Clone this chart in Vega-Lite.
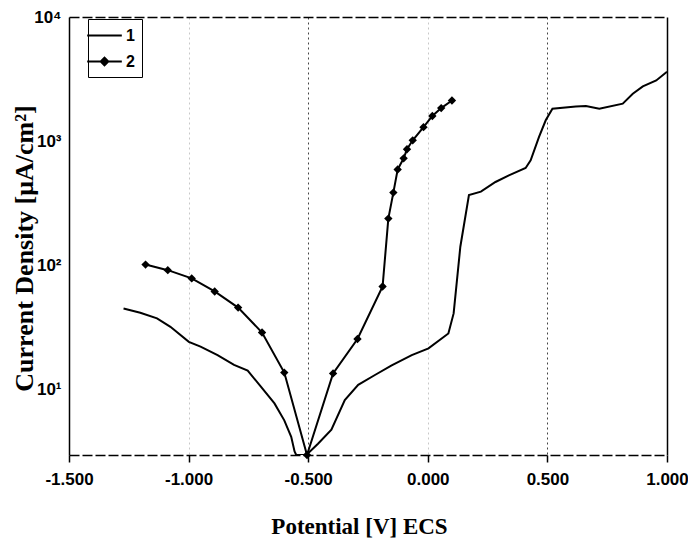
{
  "$schema": "https://vega.github.io/schema/vega-lite/v6.json",
  "width": 598,
  "height": 438,
  "autosize": {"type": "none"},
  "padding": {"left": 69, "top": 17, "right": 21, "bottom": 92},
  "background": "white",
  "config": {
    "view": {"stroke": null},
    "axis": {"labelFont": "Liberation Sans", "labelFontWeight": "bold", "labelColor": "black", "titleColor": "black", "titleFont": "Liberation Serif", "titleFontWeight": "bold", "labelFontSize": 17}
  },
  "data": {
    "values": [
      {"series": "1", "potential": -1.272, "current": 45.3},
      {"series": "1", "potential": -1.202, "current": 41.8},
      {"series": "1", "potential": -1.132, "current": 37.7},
      {"series": "1", "potential": -1.076, "current": 32.2},
      {"series": "1", "potential": -0.999, "current": 24.4},
      {"series": "1", "potential": -0.95, "current": 22.3},
      {"series": "1", "potential": -0.879, "current": 19.1},
      {"series": "1", "potential": -0.81, "current": 15.9},
      {"series": "1", "potential": -0.753, "current": 14.3},
      {"series": "1", "potential": -0.697, "current": 10.6},
      {"series": "1", "potential": -0.641, "current": 7.8},
      {"series": "1", "potential": -0.6, "current": 5.7},
      {"series": "1", "potential": -0.571, "current": 4.2},
      {"series": "1", "potential": -0.557, "current": 3.2},
      {"series": "1", "potential": -0.55, "current": 3.0},
      {"series": "1", "potential": -0.508, "current": 3.0},
      {"series": "1", "potential": -0.459, "current": 3.7},
      {"series": "1", "potential": -0.403, "current": 4.8},
      {"series": "1", "potential": -0.347, "current": 8.3},
      {"series": "1", "potential": -0.291, "current": 11.0},
      {"series": "1", "potential": -0.221, "current": 13.2},
      {"series": "1", "potential": -0.151, "current": 15.8},
      {"series": "1", "potential": -0.067, "current": 19.1},
      {"series": "1", "potential": 0.003, "current": 21.6},
      {"series": "1", "potential": 0.086, "current": 28.5},
      {"series": "1", "potential": 0.108, "current": 41.3},
      {"series": "1", "potential": 0.136, "current": 142},
      {"series": "1", "potential": 0.172, "current": 370},
      {"series": "1", "potential": 0.222, "current": 394},
      {"series": "1", "potential": 0.283, "current": 471},
      {"series": "1", "potential": 0.339, "current": 533},
      {"series": "1", "potential": 0.409, "current": 611},
      {"series": "1", "potential": 0.43, "current": 703},
      {"series": "1", "potential": 0.465, "current": 1084},
      {"series": "1", "potential": 0.493, "current": 1476},
      {"series": "1", "potential": 0.521, "current": 1832},
      {"series": "1", "potential": 0.619, "current": 1910},
      {"series": "1", "potential": 0.661, "current": 1923},
      {"series": "1", "potential": 0.717, "current": 1832},
      {"series": "1", "potential": 0.815, "current": 2009},
      {"series": "1", "potential": 0.857, "current": 2415},
      {"series": "1", "potential": 0.899, "current": 2767},
      {"series": "1", "potential": 0.955, "current": 3090},
      {"series": "1", "potential": 1.0, "current": 3630},
      {"series": "2", "potential": -1.18, "current": 102},
      {"series": "2", "potential": -1.087, "current": 92},
      {"series": "2", "potential": -0.987, "current": 79},
      {"series": "2", "potential": -0.891, "current": 62},
      {"series": "2", "potential": -0.793, "current": 46},
      {"series": "2", "potential": -0.693, "current": 29},
      {"series": "2", "potential": -0.6, "current": 13.8},
      {"series": "2", "potential": -0.505, "current": 3.0},
      {"series": "2", "potential": -0.396, "current": 13.6},
      {"series": "2", "potential": -0.294, "current": 25.7},
      {"series": "2", "potential": -0.189, "current": 68},
      {"series": "2", "potential": -0.165, "current": 239},
      {"series": "2", "potential": -0.144, "current": 387},
      {"series": "2", "potential": -0.126, "current": 593},
      {"series": "2", "potential": -0.101, "current": 730},
      {"series": "2", "potential": -0.087, "current": 863},
      {"series": "2", "potential": -0.063, "current": 1019},
      {"series": "2", "potential": -0.018, "current": 1300},
      {"series": "2", "potential": 0.019, "current": 1600},
      {"series": "2", "potential": 0.056, "current": 1850},
      {"series": "2", "potential": 0.101, "current": 2130}
    ]
  },
  "layer": [
    {
      "mark": {"type": "line", "color": "black", "strokeWidth": 2, "clip": true},
      "encoding": {
        "x": {"field": "potential", "type": "quantitative",
          "scale": {"domain": [-1.5, 1.0], "nice": false, "zero": false},
          "axis": {"values": [-1.5, -1.0, -0.5, 0.0, 0.5, 1.0], "format": ".3f", "labelExpr": "replace(datum.label, '−', '-')",
            "title": "Potential [V] ECS", "titleFontSize": 23, "titlePadding": 28, "titleX": 290,
            "labelFlush": false, "labelOverlap": false,
            "domainColor": "black", "domainWidth": 1.5, "domainDash": [10, 3],
            "tickColor": "black", "tickSize": 7, "tickWidth": 1.5, "labelPadding": 9,
            "grid": true,
            "gridColor": {"condition": {"test": "datum.value == -0.5 || datum.value == 0.5", "value": "#444"}, "value": "#c8c8c8"},
            "gridDash": [2, 3],
            "gridOpacity": {"condition": {"test": "datum.value == -1.5 || datum.value == 1.0", "value": 0}, "value": 1}}},
        "y": {"field": "current", "type": "quantitative",
          "scale": {"type": "log", "domain": [3, 10000], "nice": false},
          "axis": {"values": [10, 100, 1000, 10000], "title": "Current Density [μA/cm²]", "titleFontSize": 26, "titlePadding": -4, "titleY": 231,
            "labelExpr": "datum.value == 10 ? '10¹' : datum.value == 100 ? '10²' : datum.value == 1000 ? '10³' : '10⁴'",
            "domainColor": "black", "domainWidth": 1.5, "ticks": false, "labelPadding": 8, "grid": false}},
        "detail": {"field": "series"}
      }
    },
    {
      "transform": [{"filter": "datum.series == '2'"}],
      "mark": {"type": "point", "shape": "diamond", "filled": true, "color": "black", "size": 70, "opacity": 1},
      "encoding": {
        "x": {"field": "potential", "type": "quantitative", "axis": null},
        "y": {"field": "current", "type": "quantitative", "axis": null}
      }
    },
    {
      "mark": {"type": "point", "opacity": 0, "filled": true, "color": "black"},
      "encoding": {
        "x": {"field": "potential", "type": "quantitative",
          "axis": {"orient": "top", "labels": false, "ticks": false, "title": null, "grid": false, "domainColor": "black", "domainWidth": 1.5, "domainDash": [10, 3]}},
        "y": {"field": "current", "type": "quantitative",
          "axis": {"orient": "right", "labels": false, "ticks": false, "title": null, "grid": false, "domainColor": "black", "domainWidth": 1.5}},
        "shape": {"field": "series", "type": "nominal",
          "scale": {"domain": ["1", "2"], "range": ["M-2,-0.12H2V0.12H-2Z", "M-2,-0.12H2V0.12H-2ZM-0.6,0L0,-0.6L0.6,0L0,0.6Z"]},
          "legend": {"title": null, "orient": "none", "legendX": 19, "legendY": 2,
            "strokeColor": "black", "fillColor": "white", "padding": 7,
            "symbolSize": 300, "symbolFillColor": "black", "symbolOpacity": 1,
            "rowPadding": 8, "labelFont": "Liberation Sans", "labelFontWeight": "bold", "labelFontSize": 16, "labelColor": "black", "labelOffset": 12,
            "encode": {"symbols": {"opacity": {"value": 1}, "fill": {"value": "black"}}}}}
      }
    }
  ],
  "resolve": {"axis": {"x": "independent", "y": "independent"}}
}
